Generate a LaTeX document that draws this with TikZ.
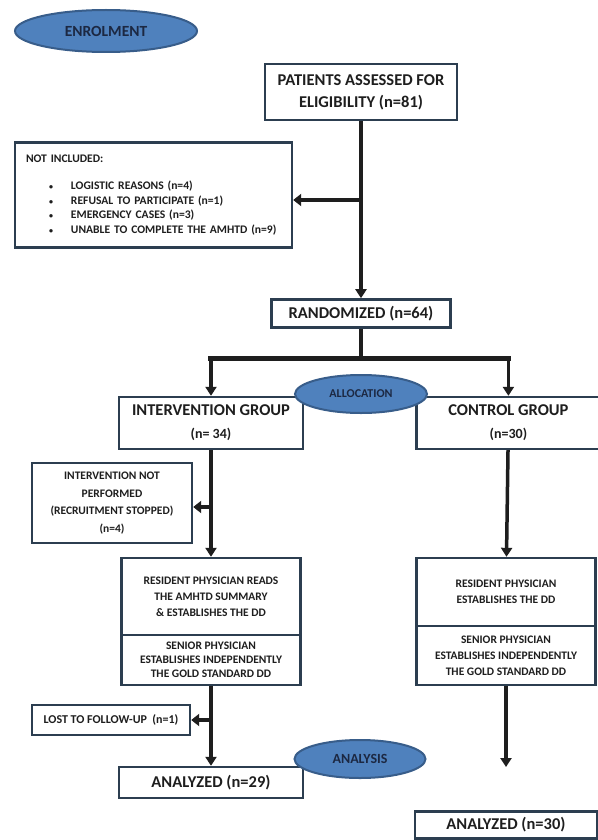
\documentclass[tikz,border=0pt]{standalone}
\usepackage{fontspec}
\setmainfont{Carlito}
\usetikzlibrary{arrows.meta,positioning,shapes.geometric}
\definecolor{boxline}  {RGB}{44,62,80}
\definecolor{ovalfill} {RGB}{79,129,189}
\definecolor{ovalline} {RGB}{56,93,138}
\definecolor{ovaltext} {RGB}{28,40,66}
\definecolor{ink}      {RGB}{30,30,30}
\newcommand{\fsz}[2]{\fontsize{#1}{#2}\selectfont\bfseries}

\begin{document}
\begin{tikzpicture}[
    x=1pt,y=1pt,
    box/.style={rectangle,draw=boxline,line width=2.4pt,fill=white,inner sep=2pt,
                align=center,text=ink,font=\fsz{11.5}{16}},
    bigbox/.style={box,font=\fsz{16.5}{22}},
    oval/.style={ellipse,draw=ovalline,line width=2pt,fill=ovalfill,inner sep=0pt,
                 text=ovaltext},
    arrow/.style={-{Triangle[length=9pt,width=11pt]},line width=3.5pt,ink},
    branch/.style={-{Triangle[length=8pt,width=12pt]},line width=4pt,ink},
    bar/.style={line width=5.5pt,ink}
  ]
    \path[use as bounding box,fill=white] (0,0) rectangle (597,-840);

    \node[bigbox,minimum width=192pt,minimum height=56pt] (assess) at (361,-92)
         {PATIENTS ASSESSED FOR\\ELIGIBILITY (n=81)};
    \node[bigbox,minimum width=179pt,minimum height=28pt,below=177pt of assess] (rand)
         {RANDOMIZED (n=64)};
    \node[box,text width=255pt,align=left,inner xsep=11pt,minimum height=105pt,
          font=\fsz{11.6}{14.5}] (excl) at (153.5,-195)
         {NOT INCLUDED:\\[13pt]
          \hspace*{23pt}{\fontsize{8}{8}\selectfont\textbullet}\hspace{18pt}LOGISTIC REASONS (n=4)\\
          \hspace*{23pt}{\fontsize{8}{8}\selectfont\textbullet}\hspace{18pt}REFUSAL TO PARTICIPATE (n=1)\\
          \hspace*{23pt}{\fontsize{8}{8}\selectfont\textbullet}\hspace{18pt}EMERGENCY CASES (n=3)\\
          \hspace*{23pt}{\fontsize{8}{8}\selectfont\textbullet}\hspace{18pt}UNABLE TO COMPLETE THE AMHTD (n=9)};

    \node[bigbox,minimum width=184pt,minimum height=52pt] (intgrp) at (211,-423)
         {INTERVENTION GROUP\\[1pt]{\fsz{14}{14}(n= 34)}};
    \node[bigbox,minimum width=184pt,minimum height=52pt,right=111pt of intgrp] (ctlgrp)
         {CONTROL GROUP\\[1pt]{\fsz{14}{14}(n=30)}};

    \node[box,minimum width=160pt,minimum height=80pt,font=\fsz{11.5}{17.5}] (noperf) at (112,-503)
         {INTERVENTION NOT\\PERFORMED\\(RECRUITMENT STOPPED)\\(n=4)};

    \node[box,minimum width=179pt,minimum height=77pt] (intres) at (211,-596.5)
         {RESIDENT PHYSICIAN READS\\THE AMHTD SUMMARY\\\& ESTABLISHES THE DD};
    \node[box,minimum width=179pt,minimum height=50pt,font=\fsz{11.5}{14},below=-2.4pt of intres] (intsen)
         {SENIOR PHYSICIAN\\ESTABLISHES INDEPENDENTLY\\THE GOLD STANDARD DD};
    \node[box,minimum width=179pt,minimum height=68pt] (ctlres) at (506,-592)
         {RESIDENT PHYSICIAN\\ESTABLISHES THE DD};
    \node[box,minimum width=179pt,minimum height=59pt,below=-2.4pt of ctlres] (ctlsen)
         {SENIOR PHYSICIAN\\ESTABLISHES INDEPENDENTLY\\THE GOLD STANDARD DD};

    \node[box,minimum width=158pt,minimum height=30pt,font=\fsz{12}{14}] (lost) at (111,-720)
         {LOST TO FOLLOW-UP\ \ (n=1)};
    \node[bigbox,minimum width=184pt,minimum height=31pt] (ana29) at (211,-782.5)
         {ANALYZED (n=29)};
    \node[bigbox,minimum width=182pt,minimum height=27pt] (ana30) at (506,-825)
         {ANALYZED (n=30)};
    \coordinate (ctlend) at (506,-767);

    \draw[arrow]  (assess) -- (rand);
    \draw[branch] (assess.south |- 0,-200) -- (excl.east |- 0,-200);
    \draw[line width=4pt,ink] (rand.south) -- ++(0,-30) coordinate (split);
    \draw[bar,line cap=rect] (split -| intgrp.north) -- (split -| ctlgrp.north);
    \draw[arrow]  (split -| intgrp.north) -- (intgrp.north);
    \draw[arrow]  (split -| ctlgrp.north) -- (ctlgrp.north);
    \draw[arrow]  (intgrp) -- (intres);
    \draw[branch] (intgrp.south |- 0,-507) -- (noperf.east |- 0,-507);
    \draw[arrow]  (intsen) -- (ana29);
    \draw[branch] (intsen.south |- lost.east) -- (lost.east);
    \draw[arrow]  (ctlgrp) -- (ctlres);
    \draw[arrow]  (ctlsen.south) -- (ctlend);

    \node[oval,minimum width=182pt,minimum height=42pt,font=\fsz{15.5}{16}] (enrol) at (106,-31) {ENROLMENT};
    \node[oval,minimum width=132pt,minimum height=38pt,font=\fsz{12}{12}]   (alloc) at (361,-394) {ALLOCATION};
    \node[oval,minimum width=131pt,minimum height=38pt,font=\fsz{14}{14}]   (anlys) at (360,-759) {ANALYSIS};
  \end{tikzpicture}
\end{document}
